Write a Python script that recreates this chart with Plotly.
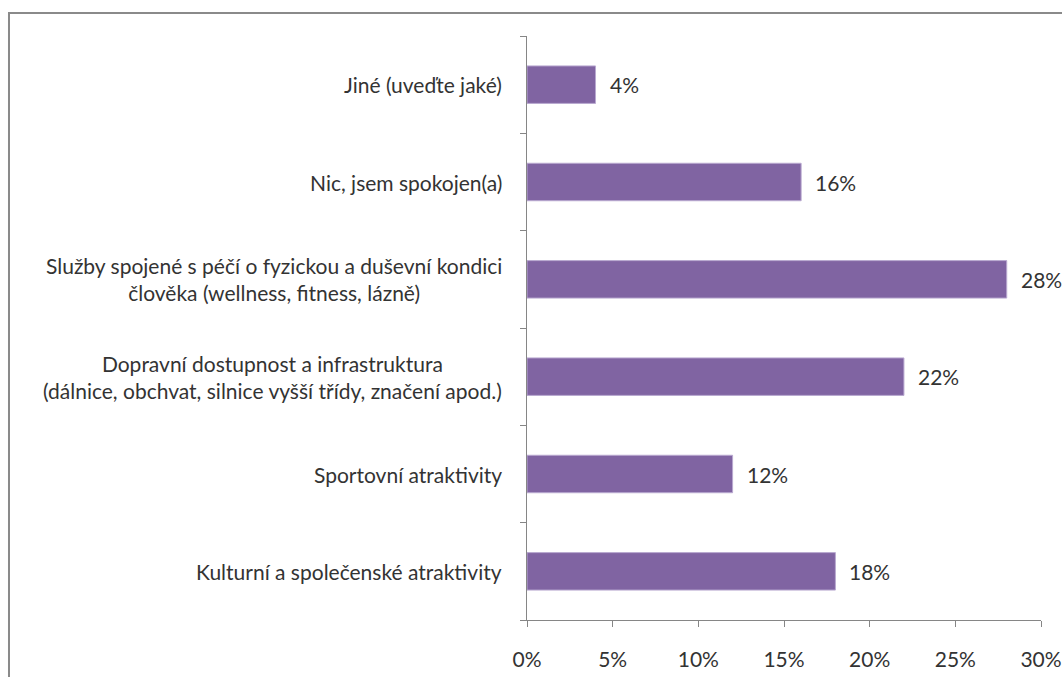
import plotly.graph_objects as go

# Survey categories (bottom to top) and their shares in percent
categories = [
    "Kulturní a společenské atraktivity",
    "Sportovní atraktivity",
    "Dopravní dostupnost a infrastruktura<br>(dálnice, obchvat, silnice vyšší třídy, značení apod.)",
    "Služby spojené s péčí o fyzickou a duševní kondici<br>člověka (wellness, fitness, lázně)",
    "Nic, jsem spokojen(a)",
    "Jiné (uveďte jaké)",
]
values = [18, 12, 22, 28, 16, 4]
x_ticks = [0, 5, 10, 15, 20, 25, 30]
x_tick_labels = [f"{v}%" for v in x_ticks]

FONT = "Lato"
FONT_SIZE = 21
TEXT_COLOR = "#333333"
AXIS_COLOR = "#868686"
BAR_COLOR = "#8064A2"

fig = go.Figure(
    go.Bar(
        x=values,
        y=categories,
        orientation="h",
        marker=dict(color=BAR_COLOR, line=dict(color="#B9A9D0", width=1)),
        hoverinfo="skip",
    )
)

annotations = []
# Category labels, centred line by line to the left of the axis
for cat in categories:
    annotations.append(dict(
        x=0, xref="paper", y=cat, yref="y",
        text=cat, showarrow=False, xanchor="right", yanchor="middle",
        align="center", xshift=-23,
        font=dict(family=FONT, size=FONT_SIZE, color=TEXT_COLOR),
    ))
# Value labels just past the end of each bar
for cat, v in zip(categories, values):
    annotations.append(dict(
        x=v, xref="x", y=cat, yref="y",
        text=f"{v}%", showarrow=False, xanchor="left", yanchor="middle",
        xshift=12,
        font=dict(family=FONT, size=FONT_SIZE, color=TEXT_COLOR),
    ))

fig.update_layout(
    width=1062, height=677,
    margin=dict(l=527, r=21, t=36, b=57, autoexpand=False),
    paper_bgcolor="white", plot_bgcolor="white",
    showlegend=False,
    bargap=0.615,
    annotations=annotations,
    shapes=[dict(
        type="rect", xref="paper", yref="paper",
        x0=-1.0078, x1=1.2, y0=-0.3, y1=1.0394,
        line=dict(color="#8a8a8a", width=2), layer="below",
    )],
    xaxis=dict(
        range=[0, 30], tickvals=x_ticks, ticktext=x_tick_labels,
        showgrid=False, zeroline=False, automargin=False,
        showline=True, linecolor=AXIS_COLOR, linewidth=1,
        ticks="outside", ticklen=6, tickcolor=AXIS_COLOR,
        tickfont=dict(family=FONT, size=FONT_SIZE, color=TEXT_COLOR),
        ticklabelstandoff=15,
    ),
    yaxis=dict(
        categoryorder="array", categoryarray=categories,
        showgrid=False, zeroline=False, automargin=False,
        showline=True, linecolor=AXIS_COLOR, linewidth=1,
        ticks="outside", ticklen=6, tickcolor=AXIS_COLOR,
        tickson="boundaries",
        showticklabels=False,
    ),
)

fig.write_html("out.html")
